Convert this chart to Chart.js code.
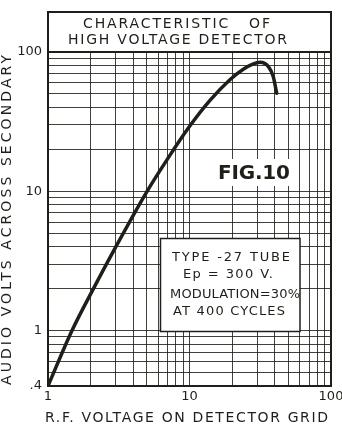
<!DOCTYPE html>
<html>
<head>
<meta charset="utf-8">
<title>Characteristic of High Voltage Detector</title>
<script src="https://cdn.jsdelivr.net/npm/chart.js@4.4.1/dist/chart.umd.min.js"></script>
<style>
  html, body { margin: 0; padding: 0; background: #fff; }
  canvas { display: block; }
</style>
</head>
<body>
<canvas id="detectorChart" width="342" height="426"></canvas>
<script>
// R.F. volts on the grid against audio volts across the secondary
const rfVolts    = [1,   1.47, 2.1,  3,    5,    7,    9.9,  14,   19.3, 24,   28,   31.5, 36.1, 39.1, 41.3];
const audioVolts = [0.4, 0.99, 2.01, 3.96, 9.96, 17.1, 28.8, 45.1, 63.2, 75.2, 81.8, 84.3, 78.5, 66.5, 50.6];

// log paper rulings and the few labelled values
const xRulings = [1, 2, 3, 4, 5, 6, 7, 8, 9, 10, 20, 30, 40, 50, 60, 70, 80, 90, 100];
const yRulings = [0.4, 0.5, 0.6, 0.7, 0.8, 0.9, 1, 2, 3, 4, 5, 6, 7, 8, 9, 10, 20, 30, 40, 50, 60, 70, 80, 90, 100];
const xTickLabels = { 1: '1', 10: '10', 100: '100' };
const yTickLabels = { 0.4: '.4', 1: '1', 10: '10', 100: '100' };

const titleLines = ['CHARACTERISTIC   OF', 'HIGH VOLTAGE DETECTOR'];
const figLabel = 'FIG.10';
const noteLines = ['TYPE -27 TUBE', 'Ep = 300 V.', 'MODULATION=30%', 'AT 400 CYCLES'];
const xTitle = 'R.F. VOLTAGE ON DETECTOR GRID';
const yTitle = 'AUDIO VOLTS ACROSS SECONDARY';

const INK = '#1d2019';
const RULE = 'rgba(30, 32, 26, 0.85)';
const FONT = '"DejaVu Sans", sans-serif';

// draws text stretched (via letter spacing) to a given width, centred on cx,
// with the capitals vertically centred on cy
function fitText(ctx, text, cx, cy, width, capH) {
  ctx.letterSpacing = '0px';
  const w = ctx.measureText(text).width;
  const gap = text.length > 1 ? (width - w) / (text.length - 1) : 0;
  ctx.letterSpacing = gap + 'px';
  ctx.textAlign = 'left';
  ctx.textBaseline = 'alphabetic';
  ctx.fillText(text, cx - width / 2, cy + capH / 2);
  ctx.letterSpacing = '0px';
}

const paperPlugin = {
  id: 'paper',
  afterDraw(chart) {
    const { ctx, chartArea: a } = chart;
    ctx.save();

    // cleared patch behind the figure number
    ctx.fillStyle = '#fff';
    ctx.fillRect(214, 159, 80, 27);

    // note box
    ctx.fillRect(160, 238, 140, 94);
    ctx.strokeStyle = INK;
    ctx.lineWidth = 1.5;
    ctx.strokeRect(160.5, 238.5, 139.5, 93);

    // outer frame including the title panel
    ctx.lineWidth = 2;
    ctx.strokeRect(a.left, 12, a.right - a.left, a.bottom - 12);
    ctx.beginPath();
    ctx.moveTo(a.left, a.top);
    ctx.lineTo(a.right, a.top);
    ctx.stroke();

    ctx.fillStyle = INK;

    ctx.font = '14px ' + FONT;
    fitText(ctx, titleLines[0], 176.5, 23, 187, 10.2);
    fitText(ctx, titleLines[1], 177.5, 39, 219, 10.2);

    ctx.font = 'bold 20px ' + FONT;
    fitText(ctx, figLabel, 254, 172, 72, 14.6);

    ctx.font = '13px ' + FONT;
    fitText(ctx, noteLines[0], 231, 256.5, 118, 9.5);
    fitText(ctx, noteLines[1], 228, 273, 90, 9.5);
    fitText(ctx, noteLines[2], 235, 293, 130, 9.5);
    fitText(ctx, noteLines[3], 229, 310, 112, 9.5);

    // axis titles
    ctx.font = '14px ' + FONT;
    fitText(ctx, xTitle, 186.5, 416.5, 283, 10.2);

    ctx.translate(5.5, 220);
    ctx.rotate(-Math.PI / 2);
    fitText(ctx, yTitle, 0, 0, 330, 10.2);

    ctx.restore();
  }
};

new Chart(document.getElementById('detectorChart'), {
  type: 'line',
  data: {
    datasets: [{
      data: rfVolts.map((x, i) => ({ x, y: audioVolts[i] })),
      borderColor: INK,
      borderWidth: 3.5,
      borderCapStyle: 'round',
      borderJoinStyle: 'round',
      pointRadius: 0,
      fill: false,
      cubicInterpolationMode: 'monotone'
    }]
  },
  options: {
    responsive: false,
    animation: false,
    devicePixelRatio: 1,
    layout: { padding: { top: 52, right: 11, bottom: 0, left: 0 } },
    plugins: {
      legend: { display: false },
      tooltip: { enabled: false }
    },
    scales: {
      x: {
        type: 'logarithmic',
        min: 1,
        max: 100,
        afterBuildTicks: (scale) => { scale.ticks = xRulings.map(v => ({ value: v })); },
        afterFit: (scale) => { scale.height = 40; scale.paddingLeft = 0; scale.paddingRight = 0; },
        grid: { color: RULE, lineWidth: 1, drawTicks: false },
        border: { display: false },
        ticks: {
          autoSkip: false,
          maxRotation: 0,
          padding: 3,
          color: INK,
          font: { family: FONT, size: 13 },
          callback: (v) => xTickLabels[v] || ''
        }
      },
      y: {
        type: 'logarithmic',
        min: 0.4,
        max: 100,
        afterBuildTicks: (scale) => { scale.ticks = yRulings.map(v => ({ value: v })); },
        afterFit: (scale) => { scale.width = 48; scale.paddingTop = 0; scale.paddingBottom = 0; },
        grid: { color: RULE, lineWidth: 1, drawTicks: false },
        border: { display: false },
        ticks: {
          autoSkip: false,
          padding: 6,
          color: INK,
          font: { family: FONT, size: 13 },
          callback: (v) => yTickLabels[v] || ''
        }
      }
    }
  },
  plugins: [paperPlugin]
});
</script>
</body>
</html>
